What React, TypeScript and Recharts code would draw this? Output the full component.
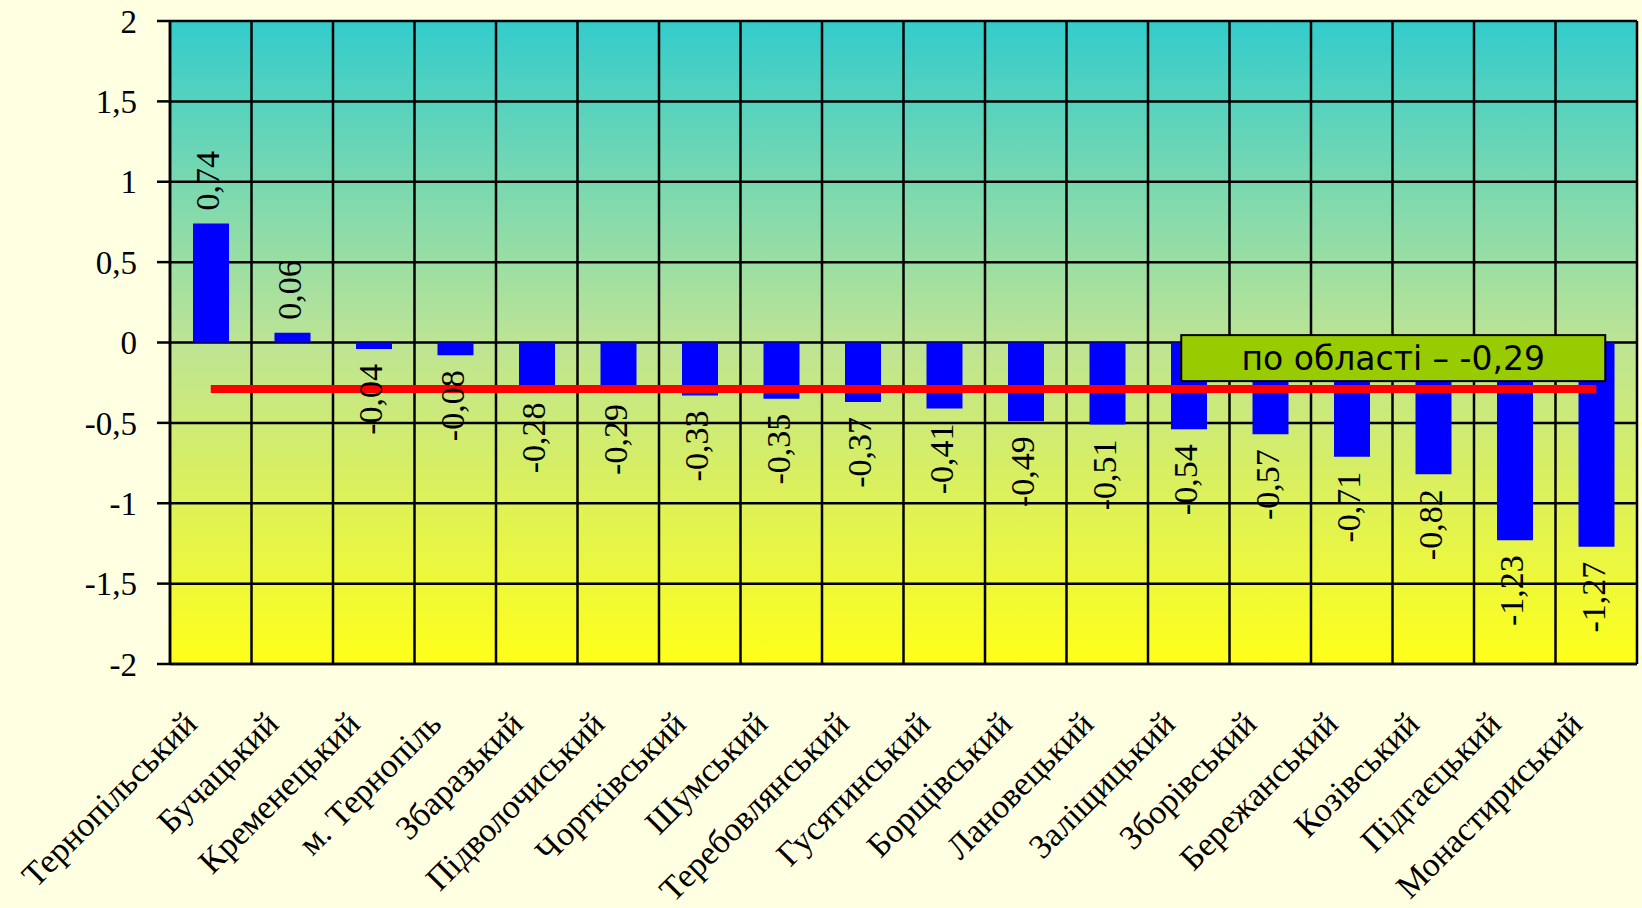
import React from 'react';
import { ComposedChart, Bar, Line, XAxis, YAxis, CartesianGrid, LabelList } from 'recharts';

const CATEGORIES = [
  'Тернопільський', 'Бучацький', 'Кременецький', 'м. Тернопіль', 'Збаразький',
  'Підволочиський', 'Чортківський', 'Шумський', 'Теребовлянський', 'Гусятинський',
  'Борщівський', 'Лановецький', 'Заліщицький', 'Зборівський', 'Бережанський',
  'Козівський', 'Підгаєцький', 'Монастириський',
];
const VALUES = [
  0.74, 0.06, -0.04, -0.08, -0.28, -0.29, -0.33, -0.35, -0.37, -0.41,
  -0.49, -0.51, -0.54, -0.57, -0.71, -0.82, -1.23, -1.27,
];
const Y_TICKS = [2, 1.5, 1, 0.5, 0, -0.5, -1, -1.5, -2];
const REGION_AVG = -0.29;
const REGION_LABEL = 'по області – -0,29';

const data = CATEGORIES.map((name, i) => ({ name, value: VALUES[i], avg: REGION_AVG }));

const fmt = (v: number) => String(v).replace('.', ',');
const fmt2 = (v: number) => v.toFixed(2).replace('.', ',');

const SERIF = '"Liberation Serif", "Times New Roman", serif';
const SANS = '"DejaVu Sans", Verdana, sans-serif';

// vertical grid lines at category boundaries, taken from the category axis scale
const categoryBoundaries = (props: any) => {
  const { xAxis, offset } = props;
  const n = CATEGORIES.length;
  const s = xAxis && xAxis.scale;
  if (s && typeof s === 'function' && typeof s.bandwidth === 'function') {
    const bw = s.bandwidth();
    const pts = CATEGORIES.map((c) => s(c));
    if (pts.every((p: any) => typeof p === 'number' && !isNaN(p))) {
      return [...pts, pts[n - 1] + bw];
    }
  }
  const left = offset.left;
  const w = offset.width;
  return Array.from({ length: n + 1 }, (_, i) => left + (w * i) / n);
};

const YTick = (props: any) => {
  const { x, y, payload } = props;
  return (
    <text x={x} y={y} dy="0.355em" textAnchor="end" fontFamily={SERIF} fontSize={33} fill="#000">
      {fmt(payload.value)}
    </text>
  );
};

const XTick = (props: any) => {
  const { x, y, payload } = props;
  const ax = x - 12;
  const ay = y + 62;
  return (
    <text
      x={ax}
      y={ay}
      textAnchor="end"
      transform={`rotate(-45 ${ax} ${ay})`}
      fontFamily={SERIF}
      fontSize={34}
      fill="#000"
    >
      {payload.value}
    </text>
  );
};

const ValueLabel = (props: any) => {
  const x = Number(props.x);
  const y = Number(props.y);
  const w = Number(props.width);
  const h = Number(props.height);
  const v = Number(props.value);
  const cx = x + w / 2 - 3;
  const top = Math.min(y, y + h);
  const bottom = Math.max(y, y + h);
  const pos = v >= 0;
  const ay = pos ? top - 13 : bottom + 15;
  return (
    <text
      x={cx}
      y={ay}
      textAnchor={pos ? 'start' : 'end'}
      dominantBaseline="central"
      transform={`rotate(-90 ${cx} ${ay})`}
      fontFamily={SERIF}
      fontSize={34}
      fill="#000"
    >
      {fmt2(v)}
    </text>
  );
};

const AvgBox = (props: any) => {
  if (props.index !== CATEGORIES.length - 1) return null;
  const x = Number(props.x);
  const y = Number(props.y);
  const left = x - 415;
  const top = y - 54;
  const w = 424;
  const h = 46;
  return (
    <g>
      <rect x={left} y={top} width={w} height={h} fill="#99CC00" stroke="#000" strokeWidth={2} />
      <text
        x={left + w / 2}
        y={top + h / 2}
        textAnchor="middle"
        dominantBaseline="central"
        fontFamily={SANS}
        fontSize={33}
        fill="#000"
      >
        {REGION_LABEL}
      </text>
    </g>
  );
};

export default function App() {
  return (
    <div style={{ position: 'absolute', left: 0, top: 0, width: 1642, height: 908, background: '#FFFFE1' }}>
      <ComposedChart width={1642} height={908} data={data} margin={{ top: 21, right: 5, left: 0, bottom: 0 }}>
        <defs>
          <linearGradient id="plotBg" x1="0" y1="0" x2="0" y2="1">
            <stop offset="0%" stopColor="#33CCCC" />
            <stop offset="50%" stopColor="#BDE495" />
            <stop offset="100%" stopColor="#FFFF19" />
          </linearGradient>
        </defs>
        <CartesianGrid
          fill="url(#plotBg)"
          fillOpacity={1}
          stroke="#000"
          strokeWidth={2.5}
          verticalCoordinatesGenerator={categoryBoundaries}
        />
        <XAxis
          dataKey="name"
          height={244}
          interval={0}
          tickLine={false}
          tickSize={0}
          tickMargin={0}
          axisLine={{ stroke: '#000', strokeWidth: 2.5 }}
          tick={<XTick />}
        />
        <YAxis
          width={170}
          domain={[-2, 2]}
          ticks={Y_TICKS}
          interval={0}
          allowDataOverflow
          tickSize={13}
          tickMargin={20}
          axisLine={{ stroke: '#000', strokeWidth: 2.5 }}
          tickLine={{ stroke: '#000', strokeWidth: 2.5 }}
          tick={<YTick />}
        />
        <Bar dataKey="value" fill="#0000FF" barSize={36} isAnimationActive={false}>
          <LabelList dataKey="value" content={<ValueLabel />} />
        </Bar>
        <Line
          dataKey="avg"
          stroke="#FF0000"
          strokeWidth={8}
          dot={false}
          activeDot={false}
          isAnimationActive={false}
        >
          <LabelList dataKey="avg" content={<AvgBox />} />
        </Line>
      </ComposedChart>
    </div>
  );
}
